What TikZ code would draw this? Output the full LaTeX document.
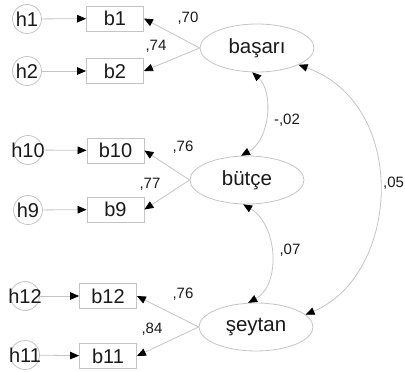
\documentclass[tikz,border=0pt]{standalone}
\usepackage{fontspec}
\setmainfont{Liberation Sans}
\usetikzlibrary{arrows.meta,shapes.geometric}
\definecolor{lg}{HTML}{C4C4C4}
\definecolor{tx}{HTML}{1A1A1A}
\begin{document}
\begin{tikzpicture}[x=1pt,y=-1pt,
  line/.style={draw=lg, line width=0.8pt},
  tip/.style={-{Triangle[length=9pt,width=7.5pt,black]}},
  dtip/.style={{Triangle[length=9pt,width=7.5pt,black]}-{Triangle[length=9pt,width=7.5pt,black]}},
  err/.style={circle, draw=lg, line width=0.8pt, minimum size=29pt, inner sep=-5pt, text=tx, font=\fontsize{20}{22}\selectfont},
  obs/.style={rectangle, draw=lg, line width=0.8pt, minimum width=57pt, minimum height=25pt, inner sep=0pt, text=tx, font=\fontsize{20}{22}\selectfont},
  lat/.style={ellipse, draw=lg, line width=0.8pt, minimum width=114pt, minimum height=48pt, inner sep=0pt, text=tx, font=\fontsize{20.5}{22}\selectfont},
  lab/.style={text=tx, inner sep=0pt, font=\fontsize{15}{17}\selectfont}
]
\useasboundingbox (0,0) rectangle (405,372);
% latent variables
\node[lat] (basari) at (257,48) {başarı};
\node[lat] (butce) at (247,180) {bütçe};
\node[lat] (seytan) at (256,327) {şeytan};
% observed
\node[obs] (b1) at (115,18.5) {b1};
\node[obs] (b2) at (115,71) {b2};
\node[obs] (b10) at (115.5,150.5) {b10};
\node[obs] (b9) at (115.5,209.5) {b9};
\node[obs] (b12) at (108,296) {b12};
\node[obs] (b11) at (108,356) {b11};
% errors
\node[err] (h1) at (27,19) {h1};
\node[err] (h2) at (27,71) {h2};
\node[err] (h10) at (28,150) {h10};
\node[err] (h9) at (28,210) {h9};
\node[err] (h12) at (25,296) {h12};
\node[err] (h11) at (25,355) {h11};
% error arrows
\draw[line,tip] (h1) -- (b1);
\draw[line,tip] (h2) -- (b2);
\draw[line,tip] (h10) -- (b10);
\draw[line,tip] (h9) -- (b9);
\draw[line,tip] (h12) -- (b12);
\draw[line,tip] (h11) -- (b11);
% loadings
\draw[line,tip] (basari.west) -- (b1.east);
\draw[line,tip] (basari.west) -- (b2.east);
\draw[line,tip] (butce.west) -- (b10.east);
\draw[line,tip] (butce.west) -- (b9.east);
\draw[line,tip] (seytan.west) -- (b12.east);
\draw[line,tip] (seytan.west) -- (b11.east);
% covariances
\draw[line,dtip] (butce.104) .. controls (270,140) and (274,92) .. (basari.-101);
\draw[line,dtip] (butce.-99) .. controls (278,225) and (281,285) .. (seytan.108);
\draw[line,dtip] (seytan.14) .. controls (400,275) and (410,105) .. (basari.-22);
% labels
\node[lab] (l1) at (188,18) {,70};
\node[lab] (l2) at (156,46) {,74};
\node[lab] (l3) at (287,120) {-,02};
\node[lab] (l4) at (183,147) {,76};
\node[lab] (l5) at (150,184) {,77};
\node[lab] (l6) at (290,250) {,07};
\node[lab] (l7) at (183,294) {,76};
\node[lab] (l8) at (152,329) {,84};
\node[lab, anchor=west] (l9) at (383,183) {,05};
\end{tikzpicture}
\end{document}
